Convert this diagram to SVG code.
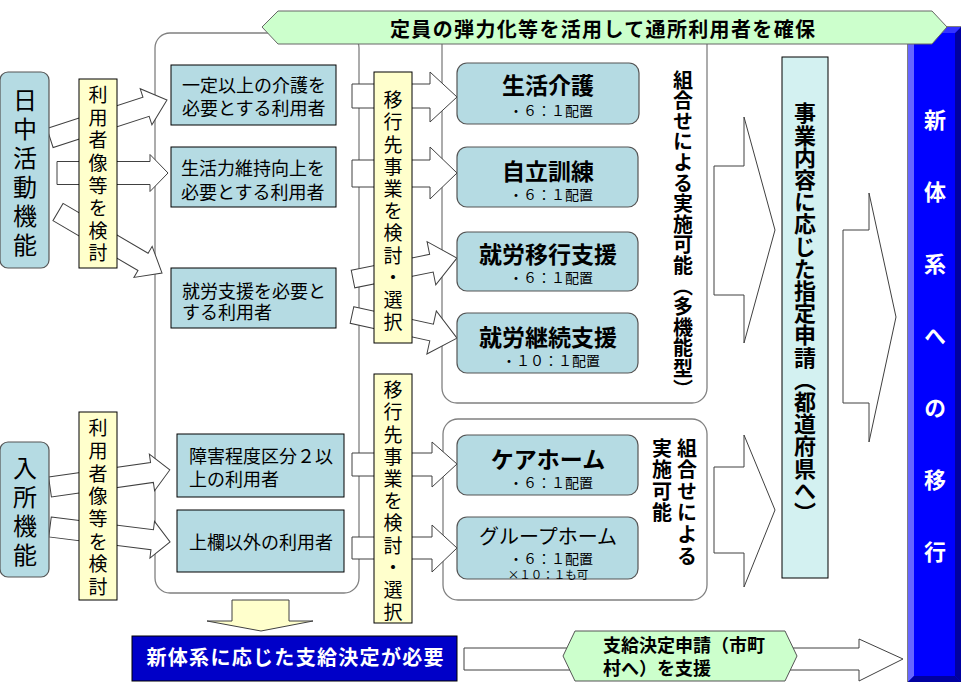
<svg xmlns="http://www.w3.org/2000/svg" width="961" height="682" viewBox="0 0 961 682">
<style>
text{font-family:'Noto Sans CJK JP','Noto Sans',sans-serif;fill:#000}
.v{writing-mode:vertical-rl;text-anchor:start}
.b{font-weight:bold}
.lbox{fill:#b5dbe3;stroke:#000;stroke-width:1}
.sbox{fill:#b5dbe3;stroke:#555;stroke-width:1.2}
.ybox{fill:#ffffcc;stroke:#000;stroke-width:1}
.cont{fill:#fff;stroke:#808080;stroke-width:1.3}
.arr{fill:#fff;stroke:#404040;stroke-width:1}
.t18{font-size:18px}
.ttl{font-size:23px;font-weight:bold;text-anchor:middle}
.sub{font-size:14px;text-anchor:middle}
.wt{fill:#fff}
</style>

<!-- blue bar -->
<g id="new-system">
  <rect x="908" y="27" width="53" height="655" fill="#0000ff" stroke="#000" stroke-width="1"/>
  <polygon points="908,27 914,33 914,676 908,682" fill="#6666ff"/>
  <polygon points="955,33 961,27 961,682 955,676" fill="#0000a0"/>
  <polygon points="908,682 914,676 955,676 961,682" fill="#0000a0"/>
  <polygon points="908,27 961,27 955,33 914,33" fill="#3333ff"/>
  <text class="v b wt" x="935" y="109" style="font-size:22px;letter-spacing:50px">新体系への移行</text>
</g>

<!-- containers -->
<g id="container-left"><rect class="cont" x="155" y="33" width="204" height="560" rx="15"/></g>
<g id="container-multi"><rect class="cont" x="442" y="20" width="265" height="383" rx="15"/></g>
<g id="container-home"><rect class="cont" x="443" y="419" width="264" height="181" rx="15"/></g>

<!-- connectors -->
<g id="connectors">
  <polygon class="arr" transform="translate(50,138) rotate(-18)" points="0,-10 101,-10 101,-19 123,0 101,19 101,10 0,10"/>
  <polygon class="arr" points="57,161.5 150,161.5 150,154.5 168,173 150,191.5 150,184.5 57,184.5"/>
  <polygon class="arr" transform="translate(58,212) rotate(30.4)" points="0,-10 98.6,-10 98.6,-18 120.6,0 98.6,18 98.6,10 0,10"/>
  <polygon class="arr" transform="translate(50,487) rotate(-8.1)" points="0,-10 103,-10 103,-18.5 121,0 103,18.5 103,10 0,10"/>
  <polygon class="arr" transform="translate(50,527) rotate(7.1)" points="0,-10 103,-10 103,-18.5 121,0 103,18.5 103,10 0,10"/>

  <polygon class="arr" points="352,84 430,84 430,72 457,97 430,122 430,108 352,108"/>
  <polygon class="arr" points="352,160 430,160 430,147 457,173 430,199 430,187 352,187"/>
  <polygon class="arr" transform="translate(353,279) rotate(-11.4)" points="0,-9 80,-9 80,-22 106,0 80,22 80,9 0,9"/>
  <polygon class="arr" transform="translate(352,315) rotate(12.4)" points="0,-8.5 81.5,-8.5 81.5,-22 107.5,0 81.5,22 81.5,8.5 0,8.5"/>
  <polygon class="arr" points="352,453 432,453 432,442 457,464 432,487 432,476 352,476"/>
  <polygon class="arr" points="352,537 432,537 432,525 457,548 432,572 432,559 352,559"/>

  <polygon class="arr" points="714,166 744,166 744,117 775,230 744,343 744,295 714,295"/>
  <polygon class="arr" points="843,230 869,230 869,193 896,317 869,442 869,403 843,403"/>
  <polygon class="arr" points="714,467 744,467 744,435 775,510 744,587 744,553 714,553"/>

  <polygon points="232,600 289,600 289,621 313,621 261,631 207,621 232,621" fill="#ffffcc" stroke="#404040" stroke-width="1"/>
  <polygon class="arr" points="464,648 859,648 859,639 903,659 859,681 859,670 464,670"/>
</g>

<!-- left function boxes -->
<g id="day-activity">
  <rect class="sbox" x="0" y="72" width="49" height="196" rx="8"/>
  <text class="v" x="25" y="88" style="font-size:24px;letter-spacing:5px">日中活動機能</text>
</g>
<g id="residential">
  <rect class="sbox" x="0" y="442" width="49" height="135" rx="8"/>
  <text class="v" x="25" y="456" style="font-size:24px;letter-spacing:5px">入所機能</text>
</g>

<g id="review-users-1">
  <rect class="ybox" x="79" y="79" width="38" height="189"/>
  <text class="v" x="98" y="85.5" style="font-size:19px;letter-spacing:3.6px">利用者像等を検討</text>
</g>
<g id="review-users-2">
  <rect class="ybox" x="79" y="412" width="38" height="188"/>
  <text class="v" x="98" y="418.5" style="font-size:19px;letter-spacing:3.7px">利用者像等を検討</text>
</g>

<g id="user-care">
  <rect class="lbox" x="171" y="65" width="165" height="60"/>
  <text class="t18" x="182" y="92">一定以上の介護を</text>
  <text class="t18" x="182" y="115">必要とする利用者</text>
</g>
<g id="user-life">
  <rect class="lbox" x="171" y="147" width="165" height="60"/>
  <text class="t18" x="181" y="175">生活力維持向上を</text>
  <text class="t18" x="181" y="199">必要とする利用者</text>
</g>
<g id="user-work">
  <rect class="lbox" x="171" y="268" width="165" height="60"/>
  <text class="t18" x="182" y="298">就労支援を必要と</text>
  <text class="t18" x="182" y="319">する利用者</text>
</g>
<g id="user-grade2">
  <rect class="lbox" x="177" y="434" width="167" height="63"/>
  <text class="t18" x="189" y="463">障害程度区分２以</text>
  <text class="t18" x="189" y="486">上の利用者</text>
</g>
<g id="user-other">
  <rect class="lbox" x="177" y="510" width="167" height="62"/>
  <text class="t18" x="189" y="549">上欄以外の利用者</text>
</g>

<g id="select-service-1">
  <rect class="ybox" x="374" y="72" width="38" height="271"/>
  <text class="v" x="393" y="90.5" style="font-size:19px;letter-spacing:3.2px">移行先事業を検討・選択</text>
</g>
<g id="select-service-2">
  <rect class="ybox" x="374" y="374" width="38" height="249"/>
  <text class="v" x="393" y="380.5" style="font-size:19px;letter-spacing:3.2px">移行先事業を検討・選択</text>
</g>

<!-- services -->
<g id="svc-life-care">
  <rect class="sbox" x="457" y="63" width="182" height="61" rx="10"/>
  <text class="ttl" x="548" y="94">生活介護</text>
  <text class="sub" x="551" y="116">・６：１配置</text>
</g>
<g id="svc-training">
  <rect class="sbox" x="457" y="147" width="181" height="60" rx="10"/>
  <text class="ttl" x="548" y="180">自立訓練</text>
  <text class="sub" x="551" y="200">・６：１配置</text>
</g>
<g id="svc-work-transition">
  <rect class="sbox" x="457" y="232" width="181" height="59" rx="10"/>
  <text class="ttl" x="548" y="263">就労移行支援</text>
  <text class="sub" x="551" y="283">・６：１配置</text>
</g>
<g id="svc-work-continue">
  <rect class="sbox" x="457" y="313" width="181" height="60" rx="10"/>
  <text class="ttl" x="548" y="346">就労継続支援</text>
  <text class="sub" x="551" y="366">・１０：１配置</text>
</g>
<g id="svc-care-home">
  <rect class="sbox" x="457" y="435" width="181" height="60" rx="10"/>
  <text class="ttl" x="548" y="468">ケアホーム</text>
  <text class="sub" x="551" y="488">・６：１配置</text>
</g>
<g id="svc-group-home">
  <rect class="sbox" x="457" y="517" width="181" height="62" rx="10"/>
  <text x="548" y="544" style="font-size:20px;text-anchor:middle">グループホーム</text>
  <text class="sub" x="551" y="564">・６：１配置</text>
  <text x="548" y="578.5" style="font-size:11.5px;text-anchor:middle">×１０：１も可</text>
</g>

<g id="label-multi">
  <text class="v b" x="683" y="70" style="font-size:20px;letter-spacing:0.6px">組合せによる実施可能（多機能型）</text>
</g>
<g id="label-combo">
  <text class="v b" x="687" y="438" style="font-size:20px;letter-spacing:1.6px">組合せによる</text>
  <text class="v b" x="662" y="438" style="font-size:20px;letter-spacing:1.6px">実施可能</text>
</g>

<g id="designation">
  <rect x="782" y="57" width="46" height="521" fill="#d3f1f1" stroke="#000" stroke-width="1"/>
  <text class="v b" x="805" y="102" style="font-size:22px;letter-spacing:0.2px">事業内容に応じた指定申請（都道府県へ）</text>
</g>

<g id="benefit-decision">
  <rect x="132" y="636" width="325" height="45" fill="#0000c8" stroke="#000" stroke-width="1"/>
  <text class="b wt" x="295" y="665" style="font-size:20px;text-anchor:middle" textLength="297" lengthAdjust="spacing">新体系に応じた支給決定が必要</text>
</g>

<g id="support-application">
  <polygon points="563,656 575,631 785,631 797,656 785,681 575,681" fill="#ccffcc" stroke="#555" stroke-width="1"/>
  <text class="b" x="603" y="652" style="font-size:18px">支給決定申請（市町</text>
  <text class="b" x="603" y="675" style="font-size:18px">村へ）を支援</text>
</g>

<g id="banner">
  <polygon points="262,27 278,11 932,11 947,27 932,44 278,44" fill="#ccffcc" stroke="#666" stroke-width="1"/>
  <text class="b" x="602.5" y="37" style="font-size:20px;text-anchor:middle" textLength="425" lengthAdjust="spacing">定員の弾力化等を活用して通所利用者を確保</text>
</g>
</svg>
